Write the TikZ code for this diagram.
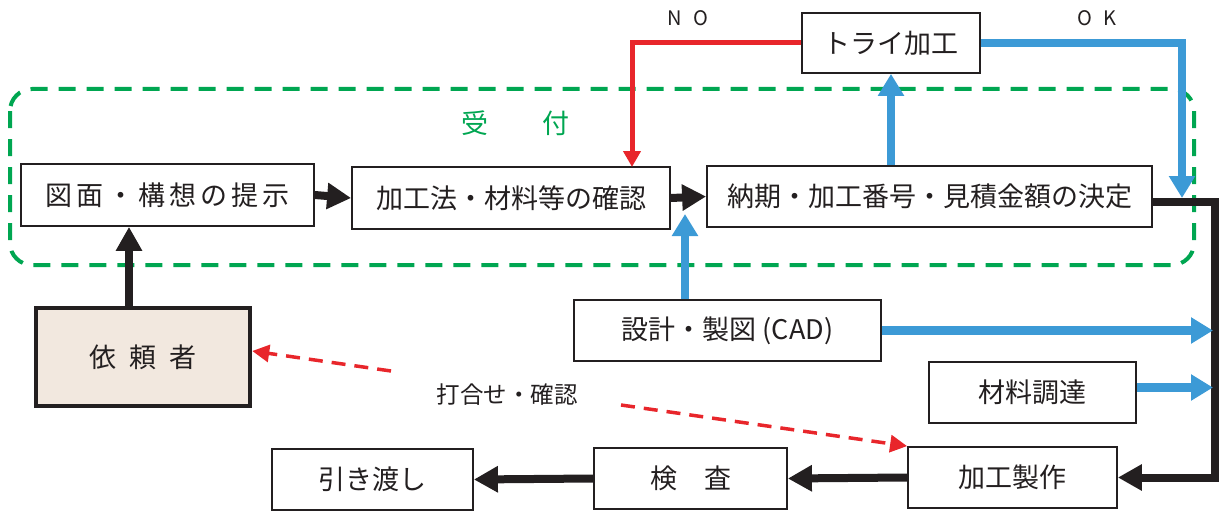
\documentclass[tikz,border=0pt]{standalone}
\usepackage{fontspec}
\setmainfont{Noto Sans CJK JP}
\usetikzlibrary{arrows.meta}
\definecolor{cblue}{HTML}{3C9AD6}
\definecolor{cred}{HTML}{E8262B}
\definecolor{cgreen}{HTML}{00A651}
\definecolor{cblack}{HTML}{231F20}
\definecolor{cbeige}{HTML}{F2E8DF}
\newcommand\gp{\hspace{4pt}}
\begin{document}
\begin{tikzpicture}[x=1pt,y=-1pt,
  box/.style={draw=cblack, line width=1.8pt, fill=white, inner sep=0pt, text=cblack,
    font=\fontsize{27pt}{31pt}\selectfont},
  blk/.style={draw=cblack, line width=8pt, line join=miter, -{Triangle[length=24pt,width=25pt]}},
  blu/.style={draw=cblue, line width=8.5pt, line join=miter, -{Triangle[length=22pt,width=25pt]}},
  rline/.style={draw=cred, line width=5pt, line join=miter, -{Triangle[length=16pt,width=17pt]}},
  rdash/.style={draw=cred, line width=3.5pt, dash pattern=on 14pt off 9pt, -{Triangle[length=17pt,width=17pt]}},
  gdash/.style={draw=cgreen, line width=4pt, dash pattern=on 17pt off 11pt},
  lbl/.style={inner sep=0pt, text=cblack}
]
\useasboundingbox (0,0) rectangle (1219,511);

% reception area
\draw[gdash, rounded corners=22pt] (10,89) rectangle (1194,265);
\node[lbl, text=cgreen, font=\fontsize{27pt}{31pt}\selectfont] (recv) at (515,123) {受　　付};

% boxes
\node[box, minimum width=293pt, minimum height=62pt] (b1) at (167.5,195) {図\gp 面\gp ・\gp 構\gp 想\gp の\gp 提\gp 示};
\node[box, minimum width=318pt, minimum height=62pt] (b2) at (511,198) {加工法・材料等の確認};
\node[box, minimum width=445pt, minimum height=61pt] (b3) at (929.5,196.5) {納期・加工番号・見積金額の決定};
\node[box, minimum width=178pt, minimum height=60pt] (try) at (891,43) {トライ加工};
\node[box, line width=4.5pt, fill=cbeige, minimum width=214pt, minimum height=98pt] (client) at (143,357) {依\hspace{13pt}頼\hspace{13pt}者};
\node[box, minimum width=307pt, minimum height=61pt] (design) at (727.5,330.5) {設計・製図 (CAD)};
\node[box, minimum width=207pt, minimum height=61pt] (mat) at (1032.5,392.5) {材料調達};
\node[box, minimum width=201pt, minimum height=61pt] (hand) at (372.5,479.5) {引き渡し};
\node[box, minimum width=193pt, minimum height=61pt] (insp) at (690.5,478.5) {検　査};
\node[box, minimum width=209pt, minimum height=61pt] (make) at (1012.5,477.5) {加工製作};

% labels
\node[lbl, font=\fontsize{20pt}{24pt}\selectfont] (no) at (688,18) {N\hspace{12pt}O};
\node[lbl, font=\fontsize{20pt}{24pt}\selectfont] (ok) at (1097,18) {O\hspace{12pt}K};
\node[lbl, font=\fontsize{23.5pt}{27pt}\selectfont] (talk) at (507,395) {打合せ・確認};

% coordinates
\coordinate (noend) at (632,167);
\coordinate (okend) at (1182,198);
\coordinate (cadup) at (685,214);
\coordinate (rtip) at (1213,329);
\coordinate (cx) at (129,0);
\coordinate (d1) at (391,371);
\coordinate (d2) at (621,405);

% black connectors
\draw[blk] (b1.east) -- (b2.west);
\draw[blk] (b2.east) -- (b3.west);
\draw[blk] (client.north -| cx) -- (b1.south -| cx);
\draw[blk] ([yshift=-5pt]b3.east) -- ++(62,0) |- (make.east);
\draw[blk] (make.west) -- (insp.east);
\draw[blk] (insp.west) -- (hand.east);

% blue connectors
\draw[blu] (try.south |- b3.north) -- (try.south);
\draw[blu] (try.east) -| (okend);
\draw[blu] (cadup |- design.north) -- (cadup);
\draw[blu] (design.east) -- (design.east -| rtip);
\draw[blu] ([yshift=5pt]mat.east) -- ([yshift=5pt]mat.east -| rtip);

% red connectors
\draw[rline] (try.west) -| (noend);
\draw[rdash] (d1) -- ([yshift=6pt]client.east);
\draw[rdash] (d2) -- (make.north west);
\end{tikzpicture}
\end{document}
